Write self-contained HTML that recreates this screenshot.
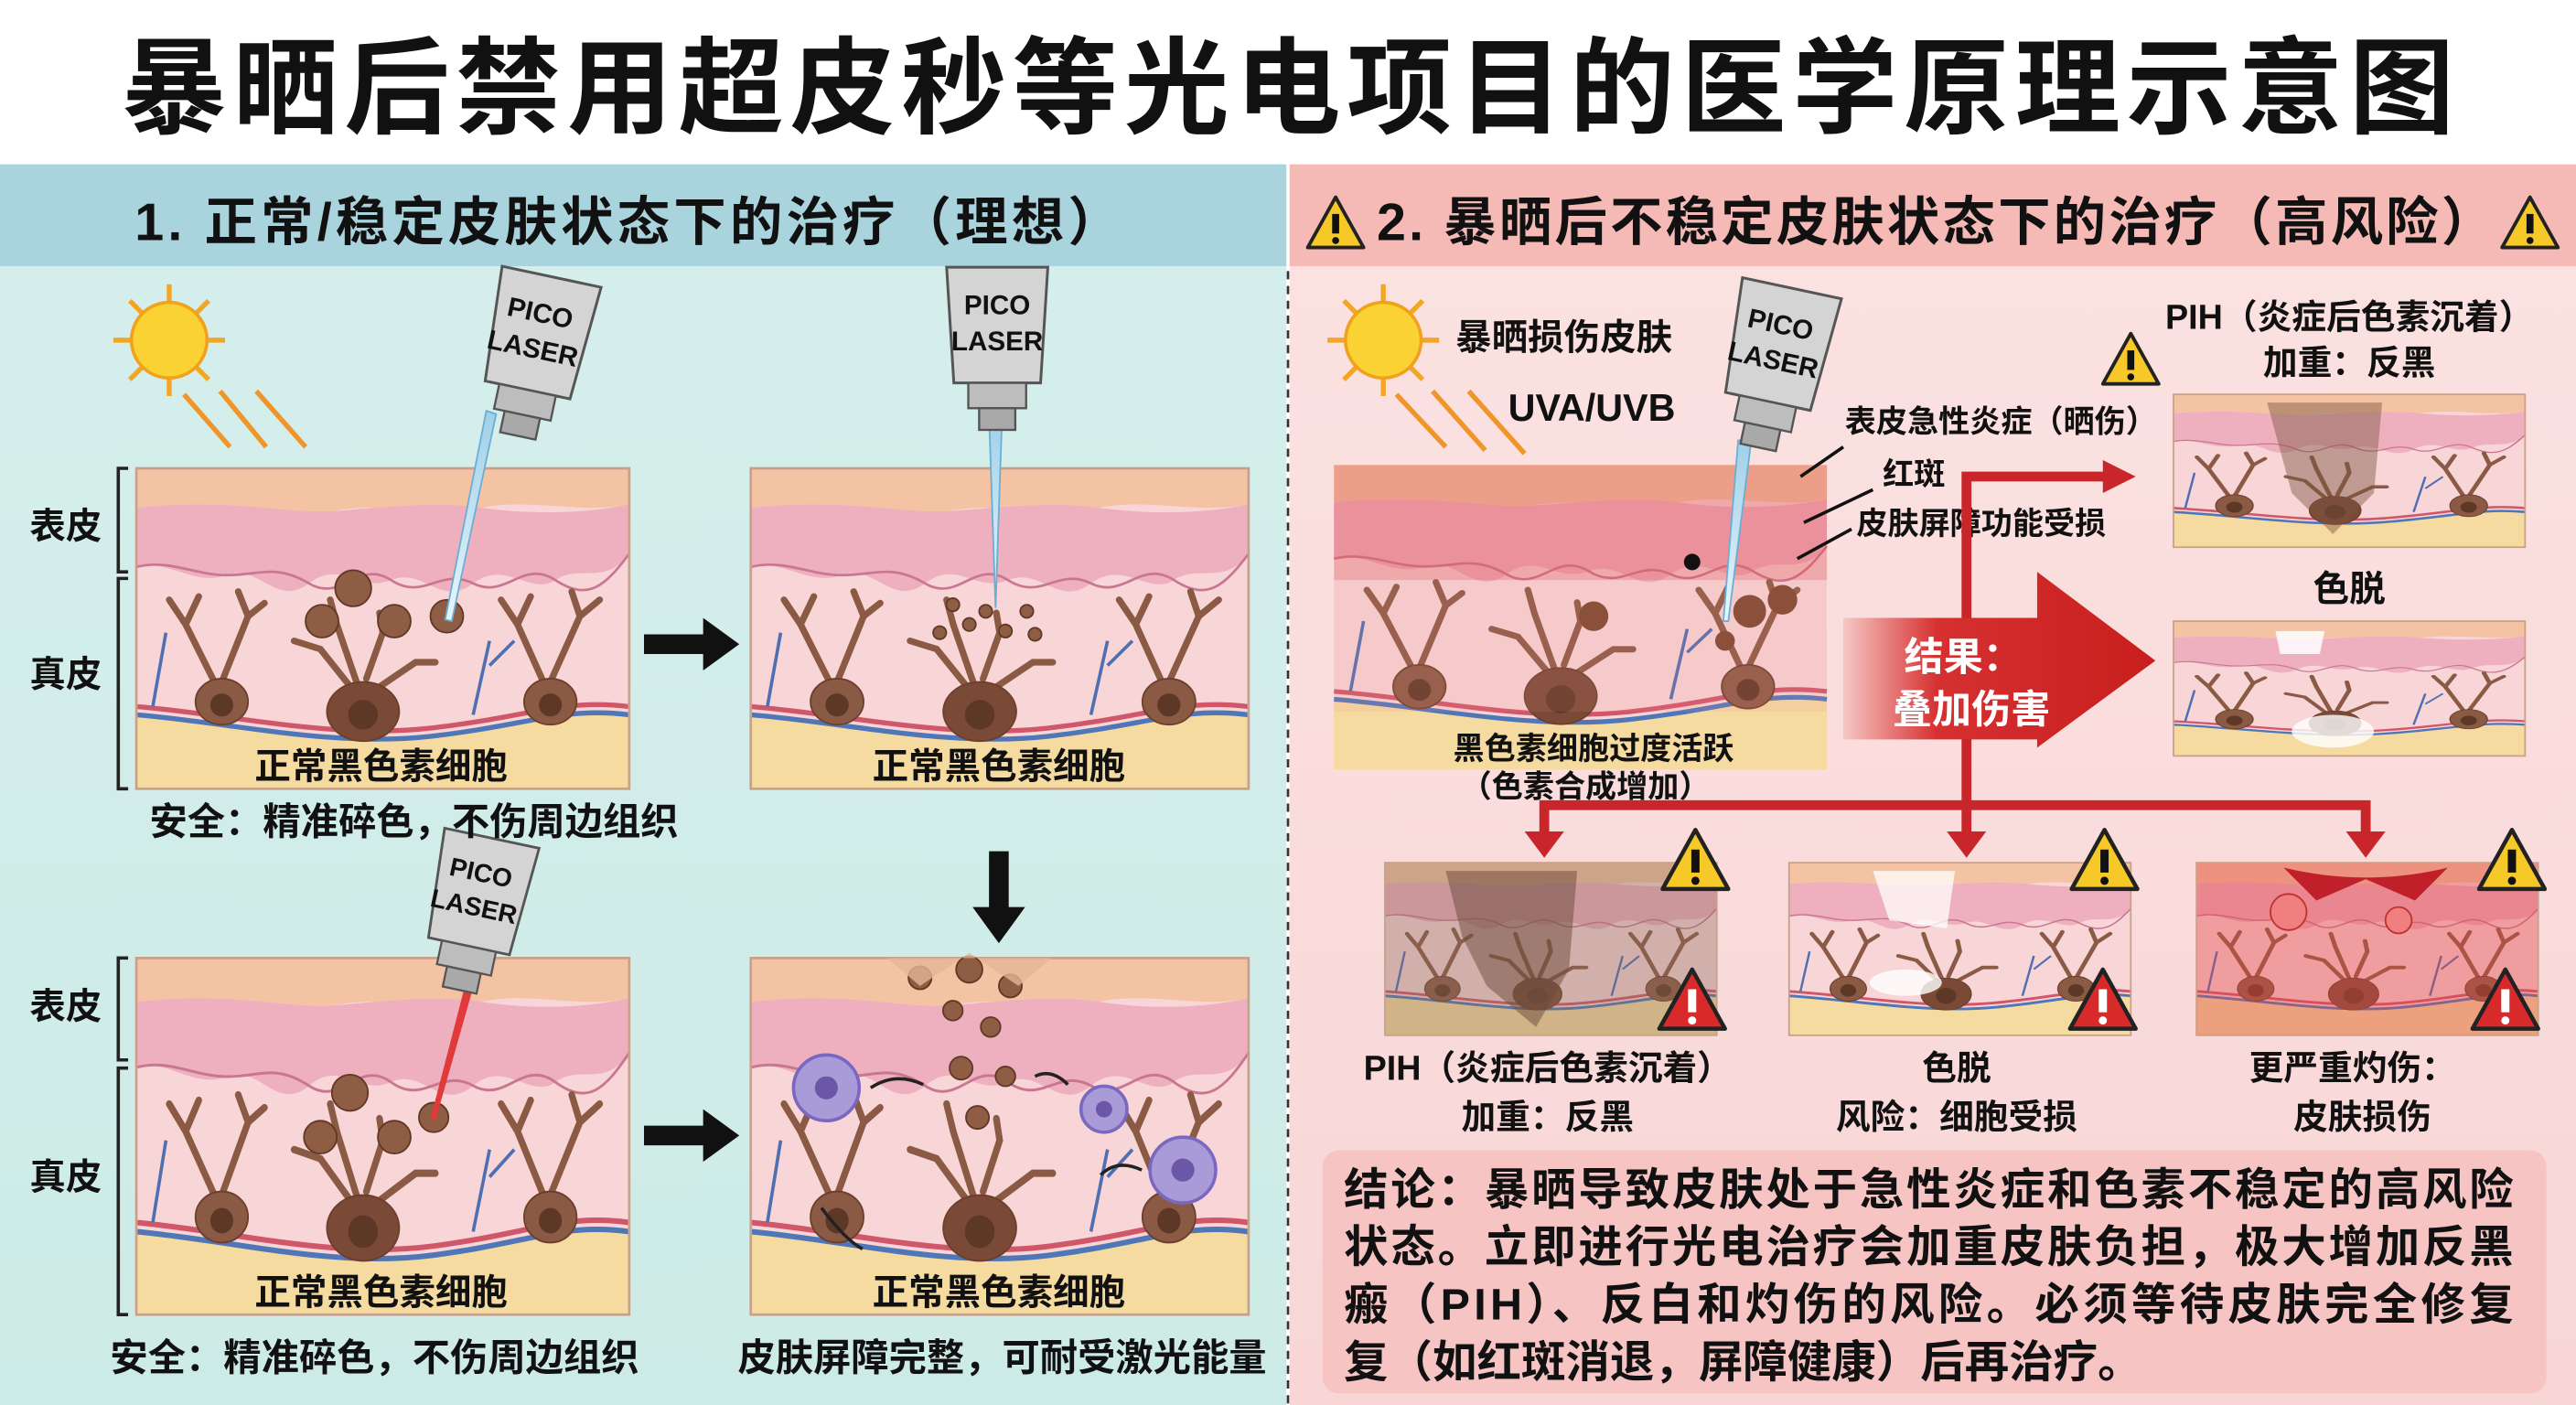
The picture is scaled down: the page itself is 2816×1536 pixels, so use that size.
<!DOCTYPE html>
<html><head><meta charset="utf-8">
<style>
html,body{margin:0;padding:0;background:#fff;}
svg{display:block;}
text{font-family:"Liberation Sans","Noto Sans CJK SC",sans-serif;font-weight:bold;fill:#111;}
</style></head>
<body>
<svg width="2816" height="1536" viewBox="0 0 1568 855" preserveAspectRatio="none" xmlns="http://www.w3.org/2000/svg">
<defs>
  <linearGradient id="lg" x1="0" y1="0" x2="0" y2="1"><stop offset="0" stop-color="#d6efec"/><stop offset="1" stop-color="#cdebe6"/></linearGradient>
  <linearGradient id="rg" x1="0" y1="0" x2="0" y2="1"><stop offset="0" stop-color="#fbe3e2"/><stop offset="1" stop-color="#f8d6d6"/></linearGradient>
  <linearGradient id="arr" x1="0" y1="0" x2="1" y2="0"><stop offset="0" stop-color="#f6c7c4"/><stop offset="0.3" stop-color="#d63030"/><stop offset="1" stop-color="#c81e1e"/></linearGradient>
  <linearGradient id="beam" x1="0" y1="0" x2="0" y2="1"><stop offset="0" stop-color="#9fd0e8"/><stop offset="1" stop-color="#e8f6fb"/></linearGradient>
  <g id="skin">
    <rect x="0" y="0" width="300" height="195" fill="#f8d5d7"/>
    <path d="M0 0H300V22C270 28 240 18 210 24S150 20 120 26 60 18 0 24Z" fill="#f3c3a3"/>
    <path d="M0 24C60 18 90 28 120 26S180 20 210 24 270 28 300 22V52C285 72 270 58 255 68S225 55 205 70 175 60 155 68 125 55 105 70 75 58 55 65 20 55 0 60Z" fill="#eeb0bf"/>
    <path d="M0 60C20 55 35 65 55 65S85 58 105 70 135 55 155 68 185 60 205 70 235 55 255 68 285 72 300 52" fill="none" stroke="#c9778f" stroke-width="1.5"/>
    <path d="M0 145C60 150 120 165 180 158S260 140 300 145" fill="none" stroke="#d0566a" stroke-width="3"/>
    <path d="M0 150C60 155 120 170 180 163S260 145 300 150V195H0Z" fill="#f6dba0"/>
    <path d="M0 150C60 155 120 170 180 163S260 145 300 150" fill="none" stroke="#4f77b8" stroke-width="3"/>
    <g fill="none" stroke="#8a5a44" stroke-width="4" stroke-linecap="round">
      <path d="M50 135L30 95 20 80M30 95L38 78M52 130L68 90 62 75M68 90L78 82"/>
      <path d="M250 135L232 95 222 80M232 95L240 78M252 130L270 90 265 75M270 90L282 80"/>
      <path d="M132 135L112 110 96 105M134 130L122 95 118 80M140 128L150 100 148 88M145 135L170 118 182 118"/>
    </g>
    <g fill="#8a5a44" stroke="#6b3f2c" stroke-width="1">
      <ellipse cx="52" cy="142" rx="16" ry="14"/>
      <ellipse cx="252" cy="142" rx="16" ry="14"/>
      <ellipse cx="138" cy="148" rx="22" ry="18" fill="#7a4a36"/>
    </g>
    <g fill="#5e3826"><circle cx="52" cy="144" r="7"/><circle cx="252" cy="144" r="7"/><circle cx="138" cy="150" r="9"/></g>
    <path d="M10 145L18 100M205 150L215 105M215 120L230 105" stroke="#4f6fb3" stroke-width="2" fill="none"/>
  </g>
  <g id="warnY"><path d="M0 -20L20 16H-20Z" fill="#f7c928" stroke="#222" stroke-width="2.5" stroke-linejoin="round"/><rect x="-2.5" y="-8" width="5" height="14" fill="#111"/><circle cx="0" cy="11" r="2.5" fill="#111"/></g>
  <g id="warnR"><path d="M0 -20L20 16H-20Z" fill="#d82a2a" stroke="#222" stroke-width="2.5" stroke-linejoin="round"/><rect x="-2.5" y="-8" width="5" height="14" fill="#fff"/><circle cx="0" cy="11" r="2.5" fill="#fff"/></g>
  <g id="sun"><g stroke="#f3a623" stroke-width="3"><line x1="0" y1="-34" x2="0" y2="34"/><line x1="-34" y1="0" x2="34" y2="0"/><line x1="-24" y1="-24" x2="24" y2="24"/><line x1="-24" y1="24" x2="24" y2="-24"/></g><circle r="23" fill="#fbd233" stroke="#f0a21e" stroke-width="2"/></g>
  <g id="dev"><path d="M-28 -34H28L24 30H-24Z" fill="#d4d4d4" stroke="#555" stroke-width="1.5"/><rect x="-16" y="30" width="32" height="14" fill="#bdbdbd" stroke="#555" stroke-width="1.2"/><rect x="-10" y="44" width="20" height="12" fill="#a9a9a9" stroke="#555" stroke-width="1.2"/></g>
</defs>

<rect x="0" y="0" width="1568" height="100" fill="#fff"/>
<rect x="0" y="100" width="783" height="755" fill="url(#lg)"/>
<rect x="785" y="100" width="783" height="755" fill="url(#rg)"/>
<rect x="0" y="100" width="783" height="62" fill="#aad4dd"/>
<rect x="785" y="100" width="783" height="62" fill="#f5b9b6"/>
<line x1="784" y1="165" x2="784" y2="855" stroke="#333" stroke-width="1.5" stroke-dasharray="5,4"/>

<text x="784" y="76" font-size="64" text-anchor="middle" font-weight="900" textLength="1420">暴晒后禁用超皮秒等光电项目的医学原理示意图</text>
<text x="82" y="146" font-size="32" textLength="600">1. 正常/稳定皮肤状态下的治疗（理想）</text>
<g transform="translate(813,137) scale(0.85)"><use href="#warnY"/></g>
<text x="838" y="146" font-size="32" textLength="680">2. 暴晒后不稳定皮肤状态下的治疗（高风险）</text>
<g transform="translate(1540,137) scale(0.85)"><use href="#warnY"/></g>

<use href="#sun" transform="translate(103,207)"/>
<g stroke="#f0952a" stroke-width="3" fill="none"><line x1="112" y1="240" x2="140" y2="272"/><line x1="134" y1="238" x2="162" y2="272"/><line x1="156" y1="238" x2="186" y2="272"/></g>
<text x="18" y="328" font-size="22">表皮</text>
<text x="18" y="418" font-size="22">真皮</text>
<path d="M78 285H72V348H78M78 352H72V480H78" stroke="#222" stroke-width="2" fill="none"/>
<text x="18" y="620" font-size="22">表皮</text>
<text x="18" y="724" font-size="22">真皮</text>
<path d="M78 583H72V645H78M78 650H72V800H78" stroke="#222" stroke-width="2" fill="none"/>

<use href="#skin" transform="translate(83,285)"/>
<use href="#skin" transform="translate(457,285) scale(1.01,1)"/>
<use href="#skin" transform="translate(83,583) scale(1,1.11)"/>
<use href="#skin" transform="translate(457,583) scale(1.01,1.11)"/>
<rect x="83" y="285" width="300" height="195" fill="none" stroke="#c9a08a" stroke-width="1.5"/>
<rect x="457" y="285" width="303" height="195" fill="none" stroke="#c9a08a" stroke-width="1.5"/>
<rect x="83" y="583" width="300" height="217" fill="none" stroke="#c9a08a" stroke-width="1.5"/>
<rect x="457" y="583" width="303" height="217" fill="none" stroke="#c9a08a" stroke-width="1.5"/>
<g fill="#8f5c44" stroke="#5e3826" stroke-width="1">
<circle cx="215" cy="358" r="11"/><circle cx="196" cy="378" r="10"/><circle cx="240" cy="378" r="10"/><circle cx="272" cy="375" r="10"/>
<circle cx="213" cy="665" r="11"/><circle cx="195" cy="692" r="10"/><circle cx="240" cy="692" r="10"/><circle cx="264" cy="680" r="9"/>
<circle cx="580" cy="368" r="4"/><circle cx="590" cy="380" r="4"/><circle cx="600" cy="372" r="4"/><circle cx="612" cy="384" r="4"/><circle cx="625" cy="372" r="4"/><circle cx="572" cy="385" r="4"/><circle cx="630" cy="386" r="4"/>
<circle cx="560" cy="595" r="7"/><circle cx="590" cy="590" r="8"/><circle cx="615" cy="600" r="7"/><circle cx="580" cy="615" r="6"/><circle cx="603" cy="625" r="6"/><circle cx="585" cy="650" r="7"/><circle cx="612" cy="655" r="6"/><circle cx="595" cy="680" r="7"/>
</g>
<path d="M540 583L560 600 590 580 620 600 640 583" fill="#e6b596" opacity="0.8"/>
<g fill="#a99ad8" stroke="#7a68c0" stroke-width="2"><circle cx="503" cy="662" r="20"/><circle cx="672" cy="675" r="14"/><circle cx="720" cy="712" r="20"/></g>
<g fill="#6a57a8"><circle cx="503" cy="662" r="7"/><circle cx="672" cy="675" r="5"/><circle cx="720" cy="712" r="7"/></g>
<g stroke="#222" stroke-width="2" fill="none"><path d="M530 662Q545 652 562 660"/><path d="M650 660Q640 650 630 655"/><path d="M695 712Q680 705 670 715"/><path d="M500 735Q515 755 525 760"/></g>

<path d="M296 250L302 252 275 378 271 377Z" fill="url(#beam)" stroke="#6aaed6" stroke-width="1"/>
<g transform="translate(328,205) rotate(12) scale(1.1)"><use href="#dev"/><text x="-2" y="-8" font-size="15" text-anchor="middle" fill="#333" font-weight="normal">PICO</text><text x="-2" y="12" font-size="15" text-anchor="middle" fill="#333" font-weight="normal">LASER</text></g>
<path d="M602 252L610 252 606 370Z" fill="url(#beam)" stroke="#6aaed6" stroke-width="1"/>
<g transform="translate(607,200) scale(1.1)"><use href="#dev"/><text x="0" y="-8" font-size="15" text-anchor="middle" fill="#333" font-weight="normal">PICO</text><text x="0" y="12" font-size="15" text-anchor="middle" fill="#333" font-weight="normal">LASER</text></g>
<path d="M283 600L288 601 265 682 262 681Z" fill="#e23a3a"/>
<g transform="translate(292,545) rotate(12) scale(1.05)"><use href="#dev"/><text x="-2" y="-8" font-size="15" text-anchor="middle" fill="#333" font-weight="normal">PICO</text><text x="-2" y="12" font-size="15" text-anchor="middle" fill="#333" font-weight="normal">LASER</text></g>

<path d="M392 386H428V376L450 392 428 408V398H392Z" fill="#111"/>
<path d="M392 685H428V675L450 691 428 707V697H392Z" fill="#111"/>
<path d="M602 518H614V552H624L608 574 592 552H602Z" fill="#111"/>

<text x="232" y="474" font-size="22" text-anchor="middle">正常黑色素细胞</text>
<text x="608" y="474" font-size="22" text-anchor="middle">正常黑色素细胞</text>
<text x="232" y="794" font-size="22" text-anchor="middle">正常黑色素细胞</text>
<text x="608" y="794" font-size="22" text-anchor="middle">正常黑色素细胞</text>
<text x="252" y="508" font-size="23" text-anchor="middle">安全：精准碎色，不伤周边组织</text>
<text x="228" y="834" font-size="23" text-anchor="middle">安全：精准碎色，不伤周边组织</text>
<text x="610" y="834" font-size="23" text-anchor="middle">皮肤屏障完整，可耐受激光能量</text>

<use href="#sun" transform="translate(842,207)"/>
<g stroke="#f0952a" stroke-width="3" fill="none"><line x1="850" y1="240" x2="880" y2="272"/><line x1="872" y1="238" x2="904" y2="274"/><line x1="894" y1="238" x2="928" y2="276"/></g>
<text x="886" y="213" font-size="22">暴晒损伤皮肤</text>
<text x="918" y="256" font-size="23">UVA/UVB</text>
<use href="#skin" transform="translate(812,283) scale(1.0,0.95)"/>
<rect x="812" y="283" width="300" height="70" fill="#e35a5a" opacity="0.35"/>
<rect x="812" y="353" width="300" height="80" fill="#e88" opacity="0.15"/>
<circle cx="1030" cy="342" r="5" fill="#111"/>
<g fill="#8a5039"><circle cx="1065" cy="372" r="10"/><circle cx="1085" cy="365" r="9"/><circle cx="1050" cy="390" r="6"/><circle cx="970" cy="375" r="9"/></g>
<path d="M1058 268L1066 268 1052 378 1049 378Z" fill="url(#beam)" stroke="#6aaed6" stroke-width="1"/>
<g transform="translate(1083,212) rotate(12) scale(1.1)"><use href="#dev"/><text x="-2" y="-8" font-size="15" text-anchor="middle" fill="#333" font-weight="normal">PICO</text><text x="-2" y="12" font-size="15" text-anchor="middle" fill="#333" font-weight="normal">LASER</text></g>
<text x="1123" y="263" font-size="19">表皮急性炎症（晒伤）</text>
<text x="1146" y="295" font-size="19">红斑</text>
<text x="1130" y="325" font-size="19">皮肤屏障功能受损</text>
<g stroke="#111" stroke-width="2"><line x1="1122" y1="272" x2="1096" y2="290"/><line x1="1140" y1="298" x2="1098" y2="318"/><line x1="1127" y1="322" x2="1094" y2="340"/></g>
<text x="970" y="462" font-size="19" text-anchor="middle">黑色素细胞过度活跃</text>
<text x="965" y="485" font-size="19" text-anchor="middle">（色素合成增加）</text>

<g stroke="#c8262a" stroke-width="6" fill="none"><path d="M1197 490V290H1282"/><path d="M940 508V490H1440V508"/><line x1="1197" y1="490" x2="1197" y2="508"/></g>
<g fill="#c8262a"><path d="M1280 280L1300 290 1280 300Z"/><path d="M928 506H952L940 522Z"/><path d="M1185 506H1209L1197 522Z"/><path d="M1428 506H1452L1440 522Z"/></g>
<path d="M1122 376H1240V348L1312 402 1240 455V450H1122Z" fill="url(#arr)"/>
<text x="1195" y="408" font-size="24" text-anchor="middle" style="fill:#fff">结果：</text>
<text x="1200" y="440" font-size="24" text-anchor="middle" style="fill:#fff">叠加伤害</text>

<text x="1430" y="200" font-size="21" text-anchor="middle">PIH（炎症后色素沉着）</text>
<text x="1430" y="228" font-size="21" text-anchor="middle">加重：反黑</text>
<g transform="translate(1297,220) scale(0.85)"><use href="#warnY"/></g>
<use href="#skin" transform="translate(1323,240) scale(0.713,0.477)"/>
<path d="M1380 245H1450L1445 300 1420 325 1395 300Z" fill="#7a5440" opacity="0.45"/>
<rect x="1323" y="240" width="214" height="93" fill="none" stroke="#c9a08a"/>
<text x="1430" y="366" font-size="22" text-anchor="middle">色脱</text>
<use href="#skin" transform="translate(1323,378) scale(0.713,0.42)"/>
<path d="M1385 384H1415L1412 398H1388Z" fill="#fff" opacity="0.85"/>
<ellipse cx="1420" cy="445" rx="25" ry="10" fill="#fff" opacity="0.8"/>
<rect x="1323" y="378" width="214" height="82" fill="none" stroke="#c9a08a"/>

<use href="#skin" transform="translate(843,525) scale(0.673,0.54)"/>
<rect x="843" y="525" width="202" height="105" fill="#8a6a58" opacity="0.35"/>
<path d="M880 530H960L955 590 935 625 905 600 890 570Z" fill="#6b4a3a" opacity="0.5"/>
<rect x="843" y="525" width="202" height="105" fill="none" stroke="#c9a08a"/>
<use href="#skin" transform="translate(1089,525) scale(0.693,0.54)"/>
<path d="M1140 530H1190L1185 565 1150 560Z" fill="#fff" opacity="0.75"/>
<ellipse cx="1160" cy="598" rx="22" ry="8" fill="#fff" opacity="0.8"/>
<rect x="1089" y="525" width="208" height="105" fill="none" stroke="#c9a08a"/>
<use href="#skin" transform="translate(1337,525) scale(0.693,0.54)"/>
<rect x="1337" y="525" width="208" height="105" fill="#e04848" opacity="0.4"/>
<path d="M1390 528Q1440 540 1490 528L1470 548 1440 535 1410 548Z" fill="#c0202a"/>
<circle cx="1393" cy="555" r="11" fill="#f08080" stroke="#c03030"/><circle cx="1460" cy="560" r="8" fill="#f08080" stroke="#c03030"/>
<rect x="1337" y="525" width="208" height="105" fill="none" stroke="#c9a08a"/>
<use href="#warnY" transform="translate(1032,525)"/>
<use href="#warnY" transform="translate(1281,525)"/>
<use href="#warnY" transform="translate(1529,525)"/>
<use href="#warnR" transform="translate(1030,610)"/>
<use href="#warnR" transform="translate(1280,610)"/>
<use href="#warnR" transform="translate(1525,610)"/>

<text x="942" y="657" font-size="21" text-anchor="middle">PIH（炎症后色素沉着）</text>
<text x="942" y="687" font-size="21" text-anchor="middle">加重：反黑</text>
<text x="1191" y="657" font-size="21" text-anchor="middle">色脱</text>
<text x="1191" y="687" font-size="21" text-anchor="middle">风险：细胞受损</text>
<text x="1432" y="657" font-size="21" text-anchor="middle">更严重灼伤：</text>
<text x="1438" y="687" font-size="21" text-anchor="middle">皮肤损伤</text>

<rect x="805" y="700" width="745" height="148" rx="10" fill="#f6c4c2"/>
<text x="818" y="733" font-size="27" textLength="712">结论：暴晒导致皮肤处于急性炎症和色素不稳定的高风险</text>
<text x="818" y="768" font-size="27" textLength="712">状态。立即进行光电治疗会加重皮肤负担，极大增加反黑</text>
<text x="818" y="803" font-size="27" textLength="712">瘢（PIH）、反白和灼伤的风险。必须等待皮肤完全修复</text>
<text x="818" y="838" font-size="27">复（如红斑消退，屏障健康）后再治疗。</text>
</svg>
</body></html>
